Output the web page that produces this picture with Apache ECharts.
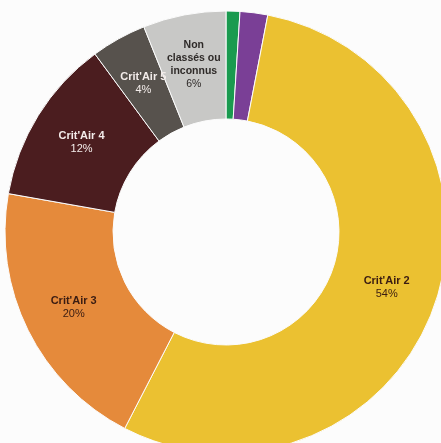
<!DOCTYPE html>
<html>
<head>
<meta charset="utf-8">
<script src="https://cdn.jsdelivr.net/npm/echarts@6/dist/echarts.min.js"></script>
<style>
  html, body { margin: 0; padding: 0; background: #fcfcfc; }
  #chart { width: 441px; height: 443px; }
</style>
</head>
<body>
<div id="chart"></div>
<script>
// catégories Crit'Air, dans l'ordre horaire depuis midi
var categories = ['Électrique', "Crit'Air 1", "Crit'Air 2", "Crit'Air 3", "Crit'Air 4", "Crit'Air 5", 'Non\nclassés ou\ninconnus']
var values = [1, 2, 54, 20, 12, 4, 6]
var colors = ['#1a9a4f', '#7a3f96', '#ebc131', '#e58a3b', '#4b1d1f', '#57524d', '#c8c8c6']
var labelColors = ['#fff', '#fff', '#3a1c12', '#3a1c12', '#f3ecea', '#f3ecea', '#2e2a28']
var showLabel = [false, false, true, true, true, true, true]

var chart = echarts.init(document.getElementById('chart'))

chart.setOption({
  backgroundColor: '#fcfcfc',
  animation: false,
  series: [
    {
      type: 'pie',
      radius: [113, 221],
      center: [226, 232],
      startAngle: 90,
      clockwise: true,
      avoidLabelOverlap: false,
      itemStyle: {
        borderColor: '#fcfcfc',
        borderWidth: 1
      },
      label: {
        position: 'inside',
        formatter: function(p) {
          return '{n|' + p.name.split('\n').join('}\n{n|') + '}\n{v|' + p.value + '%}'
        }
      },
      labelLine: { show: false },
      data: categories.map(function(name, i) {
        // the 3-line label sits in a thin slice, a bit smaller so it still shows
        var small = name.indexOf('\n') >= 0
        return {
          name: name,
          value: values[i],
          itemStyle: { color: colors[i] },
          label: {
            show: showLabel[i],
            rich: {
              n: {
                fontFamily: 'Liberation Sans',
                fontWeight: 'bold',
                fontSize: small ? 10.5 : 11,
                lineHeight: small ? 13 : 13.5,
                color: labelColors[i]
              },
              v: {
                fontFamily: 'Liberation Sans',
                fontSize: small ? 10.5 : 11,
                lineHeight: small ? 13 : 13.5,
                color: labelColors[i]
              }
            }
          }
        }
      })
    }
  ]
})
</script>
</body>
</html>
